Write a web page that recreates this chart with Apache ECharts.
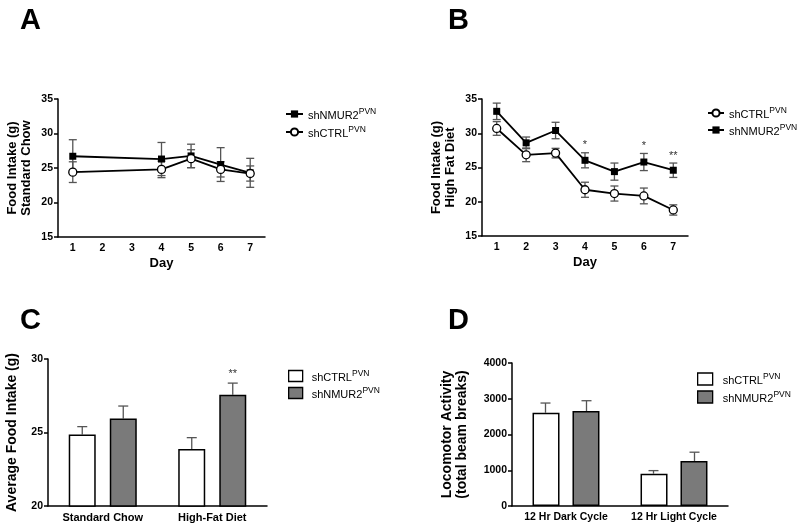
<!DOCTYPE html>
<html><head><meta charset="utf-8">
<script src="https://cdn.jsdelivr.net/npm/echarts@6/dist/echarts.min.js"></script>
<style>html,body{margin:0;padding:0;background:#fff}#c{width:800px;height:530px}</style>
</head><body><div id="c"></div>
<script>
// ---- Data ----
var days = ['1','2','3','4','5','6','7'];
// Panel A: standard chow
var nmurA    = [26.7, null, null, 26.3, 26.75, 25.5, 24.3];
var nmurAErr = [2.4, null, null, 2.4, 1.7, 2.45, 2.1];
var ctrlA    = [24.4, null, null, 24.8, 26.35, 24.8, 24.2];
var ctrlAErr = [1.5, null, null, 1.2, 1.3, 1.1, 1.1];
// Panel B: high fat diet
var ctrlB    = [30.7, 26.85, 27.1, 21.75, 21.2, 20.85, 18.8];
var ctrlBErr = [1.0, 1.0, 0.7, 1.1, 1.1, 1.15, 0.75];
var nmurB    = [33.2, 28.6, 30.4, 26.05, 24.4, 25.8, 24.6];
var nmurBErr = [1.2, 0.85, 1.2, 1.1, 1.25, 1.25, 1.05];
var sigB     = ['', '', '', '*', '', '*', '**'];
// Panel C: average food intake
var dietCats = ['Standard Chow', 'High-Fat Diet'];
var ctrlC    = [24.87, 23.87];
var ctrlCErr = [0.53, 0.78];
var nmurC    = [25.95, 27.56];
var nmurCErr = [0.85, 0.8];
var sigC     = ['', '**'];
// Panel D: locomotor activity
var cycleCats = ['12 Hr Dark Cycle', '12 Hr Light Cycle'];
var ctrlD    = [2610, 905];
var ctrlDErr = [270, 85];
var nmurD    = [2655, 1260];
var nmurDErr = [290, 245];

var FONT = 'Liberation Sans, Arial, sans-serif';

function errData(vals, errs, sig) {
  var out = [];
  vals.forEach(function (v, i) {
    if (v === null) return;
    out.push([i, v, errs[i], sig ? sig[i] : '']);
  });
  return out;
}
function lineData(vals) { return vals.map(function (v) { return v === null ? '-' : v; }); }

function symErr(params, api) {
  var i = api.value(0), v = api.value(1), e = api.value(2);
  var sig = api.value(3);
  var t = api.coord([i, v + e]), b = api.coord([i, v - e]);
  var x = t[0], w = 4;
  var st = { stroke: '#555', lineWidth: 1.3 };
  var ch = [
    { type: 'line', shape: { x1: x, y1: t[1], x2: x, y2: b[1] }, style: st },
    { type: 'line', shape: { x1: x - w, y1: t[1], x2: x + w, y2: t[1] }, style: st },
    { type: 'line', shape: { x1: x - w, y1: b[1], x2: x + w, y2: b[1] }, style: st }
  ];
  if (sig && sig !== '-' ) {
    ch.push({ type: 'text', style: { text: String(sig), x: x, y: t[1] - 2, align: 'center', verticalAlign: 'bottom', font: '11px ' + FONT, fill: '#333' } });
  }
  return { type: 'group', children: ch };
}
function upErr(sign) {
  return function (params, api) {
    var i = api.value(0), v = api.value(1), e = api.value(2), sig = api.value(3);
    var base = api.coord([i, v]), t = api.coord([i, v + e]);
    var x = base[0] + sign * 20.5, w = 5;
    var st = { stroke: '#555', lineWidth: 1.3 };
    var ch = [
      { type: 'line', shape: { x1: x, y1: t[1], x2: x, y2: base[1] }, style: st },
      { type: 'line', shape: { x1: x - w, y1: t[1], x2: x + w, y2: t[1] }, style: st }
    ];
    if (sig && sig !== '-') {
      ch.push({ type: 'text', style: { text: String(sig), x: x, y: t[1] - 4, align: 'center', verticalAlign: 'bottom', font: '11px ' + FONT, fill: '#333' } });
    }
    return { type: 'group', children: ch };
  };
}

var axisLine = { lineStyle: { color: '#000', width: 1.5 } };
var axisTick = { length: 4, lineStyle: { color: '#000', width: 1.5 } };
function yAx(grid, min, max, interval, name, gap, fs) {
  return {
    type: 'value', gridIndex: grid, min: min, max: max, interval: interval,
    axisLine: Object.assign({ show: true }, axisLine), axisTick: Object.assign({ show: true }, axisTick),
    splitLine: { show: false },
    axisLabel: { color: '#000', fontWeight: 'bold', fontSize: 10.5, fontFamily: FONT, margin: 5,
      formatter: function (v) { return String(v); } },
    name: name, nameLocation: 'middle', nameGap: gap, nameRotate: 90,
    nameTextStyle: { color: '#000', fontWeight: 'bold', fontSize: fs, fontFamily: FONT, lineHeight: fs + 1 }
  };
}
function xAx(grid, cats, name, fs) {
  return {
    type: 'category', gridIndex: grid, data: cats, boundaryGap: true,
    axisLine: axisLine, axisTick: Object.assign({ alignWithLabel: true }, axisTick),
    axisLabel: { color: '#000', fontWeight: 'bold', fontSize: fs, fontFamily: FONT, margin: 6, interval: 0 },
    name: name, nameLocation: 'middle', nameGap: 20,
    nameTextStyle: { color: '#000', fontWeight: 'bold', fontSize: 13, fontFamily: FONT }
  };
}
var rich = {
  g: { width: 0 },
  n: { fontSize: 11, fontFamily: FONT, color: '#000', lineHeight: 14, verticalAlign: 'bottom' },
  s: { fontSize: 8.5, fontFamily: FONT, color: '#000', lineHeight: 8, verticalAlign: 'top' }
};
function legendFmt(spacer) {
  return function (name) {
    return (spacer ? '{g|}' : '') + '{n|' + name.split(' ')[1] + '}{s|PVN}';
  };
}
function richWith(gw) {
  var r = JSON.parse(JSON.stringify(rich));
  r.g = { width: gw };
  return r;
}

var squareStyle = { color: '#000' };
var circleStyle = { color: '#fff', borderColor: '#000', borderWidth: 1.3 };
var lineStyle = { color: '#000', width: 1.8 };

var option = {
  animation: false,
  backgroundColor: '#fff',
  textStyle: { fontFamily: FONT },
  grid: [
    { left: 58, top: 99, width: 207, height: 138 },
    { left: 482, top: 99, width: 206, height: 137 },
    { left: 48, top: 359, width: 219, height: 147 },
    { left: 512, top: 363, width: 216, height: 143 }
  ],
  xAxis: [
    xAx(0, days, 'Day', 10.5),
    xAx(1, days, 'Day', 10.5),
    xAx(2, dietCats, '', 11),
    xAx(3, cycleCats, '', 10.5)
  ],
  yAxis: [
    yAx(0, 15, 35, 5, 'Food Intake (g)\nStandard Chow', 25, 13),
    yAx(1, 15, 35, 5, 'Food Intake (g)\nHigh Fat Diet', 25, 13),
    yAx(2, 20, 30, 5, 'Average Food Intake (g)', 28, 14),
    yAx(3, 0, 4000, 1000, 'Locomotor Activity\n(total beam breaks)', 42, 14)
  ],
  legend: [
    { data: ['A shNMUR2', 'A shCTRL'], orient: 'vertical', left: 280, top: 102, itemWidth: 17, itemHeight: 9, itemGap: 4,
      formatter: legendFmt(false), textStyle: { rich: rich }, selectedMode: false },
    { data: ['B shCTRL', 'B shNMUR2'], orient: 'vertical', left: 702, top: 101, itemWidth: 16, itemHeight: 9, itemGap: 3,
      formatter: legendFmt(false), textStyle: { rich: rich }, selectedMode: false },
    { data: ['C shCTRL', 'C shNMUR2'], orient: 'vertical', left: 283, top: 364, itemWidth: 14, itemHeight: 11, itemGap: 3,
      formatter: legendFmt(true), textStyle: { rich: richWith(4) }, selectedMode: false, icon: 'rect',
      itemStyle: { borderColor: '#000', borderWidth: 1.3 } },
    { data: ['D shCTRL', 'D shNMUR2'], orient: 'vertical', left: 692, top: 367, itemWidth: 15, itemHeight: 12, itemGap: 4,
      formatter: legendFmt(true), textStyle: { rich: richWith(5) }, selectedMode: false, icon: 'rect',
      itemStyle: { borderColor: '#000', borderWidth: 1.3 } }
  ],
  graphic: [
    { type: 'text', left: 20, top: 6, style: { text: 'A', font: 'bold 29px ' + FONT, fill: '#000' } },
    { type: 'text', left: 448, top: 6, style: { text: 'B', font: 'bold 29px ' + FONT, fill: '#000' } },
    { type: 'text', left: 20, top: 306, style: { text: 'C', font: 'bold 29px ' + FONT, fill: '#000' } },
    { type: 'text', left: 448, top: 306, style: { text: 'D', font: 'bold 29px ' + FONT, fill: '#000' } }
  ],
  series: [
    // Panel A
    { type: 'custom', xAxisIndex: 0, yAxisIndex: 0, z: 1, renderItem: symErr, data: errData(nmurA, nmurAErr), silent: true },
    { type: 'custom', xAxisIndex: 0, yAxisIndex: 0, z: 1, renderItem: symErr, data: errData(ctrlA, ctrlAErr), silent: true },
    { name: 'A shNMUR2', type: 'line', xAxisIndex: 0, yAxisIndex: 0, z: 3, data: lineData(nmurA), connectNulls: true,
      symbol: 'rect', symbolSize: 7, itemStyle: squareStyle, lineStyle: lineStyle },
    { name: 'A shCTRL', type: 'line', xAxisIndex: 0, yAxisIndex: 0, z: 4, data: lineData(ctrlA), connectNulls: true,
      symbol: 'circle', symbolSize: 8, showAllSymbol: true, itemStyle: circleStyle, lineStyle: lineStyle },
    // Panel B
    { type: 'custom', xAxisIndex: 1, yAxisIndex: 1, z: 1, renderItem: symErr, data: errData(nmurB, nmurBErr, sigB), silent: true },
    { type: 'custom', xAxisIndex: 1, yAxisIndex: 1, z: 1, renderItem: symErr, data: errData(ctrlB, ctrlBErr), silent: true },
    { name: 'B shCTRL', type: 'line', xAxisIndex: 1, yAxisIndex: 1, z: 4, data: ctrlB,
      symbol: 'circle', symbolSize: 8, showAllSymbol: true, itemStyle: circleStyle, lineStyle: lineStyle },
    { name: 'B shNMUR2', type: 'line', xAxisIndex: 1, yAxisIndex: 1, z: 3, data: nmurB,
      symbol: 'rect', symbolSize: 7, showAllSymbol: true, itemStyle: squareStyle, lineStyle: lineStyle },
    // Panel C
    { name: 'C shCTRL', type: 'bar', xAxisIndex: 2, yAxisIndex: 2, data: ctrlC, barWidth: 27, barGap: '52%',
      itemStyle: { color: '#fff', borderColor: '#000', borderWidth: 1.5 } },
    { name: 'C shNMUR2', type: 'bar', xAxisIndex: 2, yAxisIndex: 2, data: nmurC, barWidth: 27, barGap: '52%',
      itemStyle: { color: '#7a7a7a', borderColor: '#000', borderWidth: 1.5 } },
    { type: 'custom', xAxisIndex: 2, yAxisIndex: 2, z: 1, renderItem: upErr(-1), data: errData(ctrlC, ctrlCErr), silent: true },
    { type: 'custom', xAxisIndex: 2, yAxisIndex: 2, z: 1, renderItem: upErr(1), data: errData(nmurC, nmurCErr, sigC), silent: true },
    // Panel D
    { name: 'D shCTRL', type: 'bar', xAxisIndex: 3, yAxisIndex: 3, data: ctrlD, barWidth: 27, barGap: '48%',
      itemStyle: { color: '#fff', borderColor: '#000', borderWidth: 1.5 } },
    { name: 'D shNMUR2', type: 'bar', xAxisIndex: 3, yAxisIndex: 3, data: nmurD, barWidth: 27, barGap: '48%',
      itemStyle: { color: '#7a7a7a', borderColor: '#000', borderWidth: 1.5 } },
    { type: 'custom', xAxisIndex: 3, yAxisIndex: 3, z: 1, renderItem: upErr(-1), data: errData(ctrlD, ctrlDErr), silent: true },
    { type: 'custom', xAxisIndex: 3, yAxisIndex: 3, z: 1, renderItem: upErr(1), data: errData(nmurD, nmurDErr), silent: true }
  ]
};
var chart = echarts.init(document.getElementById('c'), null, { renderer: 'canvas' });
chart.setOption(option);
</script>
</body></html>
